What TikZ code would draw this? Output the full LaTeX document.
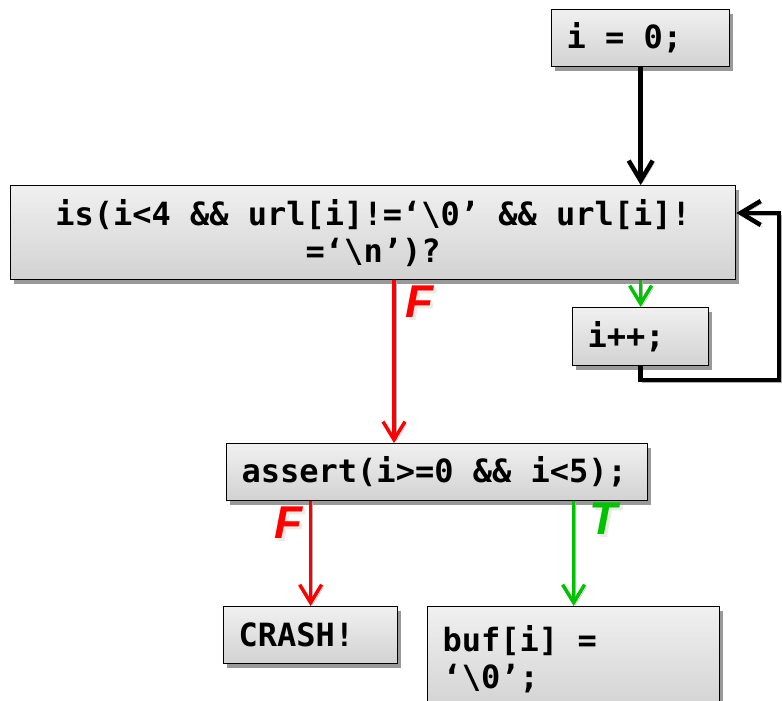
\documentclass[tikz,border=0pt]{standalone}
\usepackage{fontspec}
\usepackage{xcolor}
\usetikzlibrary{positioning,arrows.meta,shadows}
\newfontfamily\codefont{DejaVu Sans Mono}
\newfontfamily\labelfont{Liberation Sans}
\definecolor{boxtop}{RGB}{240,240,240}
\definecolor{boxbottom}{RGB}{210,210,210}
\definecolor{flowred}{RGB}{255,0,0}
\definecolor{flowgreen}{RGB}{0,195,0}
\definecolor{labelshade}{RGB}{236,234,226}
\newcommand{\shadowed}[1]{\rlap{\hspace{3pt}\raisebox{-3pt}{\color{labelshade}#1}}#1}

\begin{document}
\begin{tikzpicture}[x=1pt, y=-1pt,
        box/.style={rectangle, draw=black, line width=1.3pt,
                   top color=boxtop, bottom color=boxbottom,
                   drop shadow={shadow xshift=3.5pt, shadow yshift=-4pt, fill=black!40, opacity=1},
                   inner xsep=15pt, inner ysep=4pt, align=left, anchor=north west,
                   font=\fontsize{32}{37}\selectfont\codefont\bfseries,
                   execute at begin node={\spaceskip=0.602em\relax}},
        flow/.style={-{Straight Barb[length=18pt, width=22pt]}, line width=3.5pt,
                   preaction={draw=black!30, transform canvas={xshift=2pt, yshift=-2pt}}},
        blackflow/.style={flow, line width=4.5pt, -{Straight Barb[length=20pt, width=24pt]}},
        redflow/.style={flow, flowred},
        greenflow/.style={flow, flowgreen},
        flowlabel/.style={font=\fontsize{46}{46}\selectfont\labelfont\bfseries\itshape, inner sep=0pt}
    ]
        \useasboundingbox (0,0) rectangle (782,701);

        \node[box, text width=148pt, minimum height=57pt] (init) at (551,9) {i = 0;};
        \node[box, text width=695pt, minimum height=94pt, align=center] (cond) at (10,185)
            {is(i<4 \&\& url[i]!=‘\textbackslash 0’ \&\& url[i]!\\=‘\textbackslash n’)?};
        \node[box, text width=106pt, minimum height=58pt] (inc) at (572,307) {i++;};
        \node[box, text width=391pt, minimum height=57pt] (assert) at (226,443) {assert(i>=0 \&\& i<5);};
        \node[box, text width=144pt, minimum height=57pt] (crash) at (223,606) {CRASH!};
        \node[box, text width=262pt, inner ysep=19pt] (buf) at (427,606) {buf[i] =\\‘\textbackslash 0’;};

        \coordinate (fcol) at (394,0);
        \coordinate (loopbot) at (779,380);
        \coordinate (looptop) at (779,213);

        \draw[blackflow] (init.south) -- (init.south |- cond.north);
        \draw[greenflow] (cond.south -| inc.north) -- (inc.north);
        \draw[blackflow] (inc.south) |- (loopbot) -- (looptop) -- (cond.east |- looptop);
        \draw[redflow] (cond.south -| fcol) -- (assert.north -| fcol);
        \draw[redflow] (assert.south -| crash.north) -- (crash.north);
        \draw[greenflow] (assert.south -| buf.north) -- (buf.north);

        % branch labels
        \node[flowlabel, text=flowred] (fcond) at (420,303) {\shadowed{F}};
        \node[flowlabel, text=flowred] (fassert) at (289,524) {\shadowed{F}};
        \node[flowlabel, text=flowgreen] (tassert) at (604,520) {\shadowed{T}};
    \end{tikzpicture}
\end{document}
